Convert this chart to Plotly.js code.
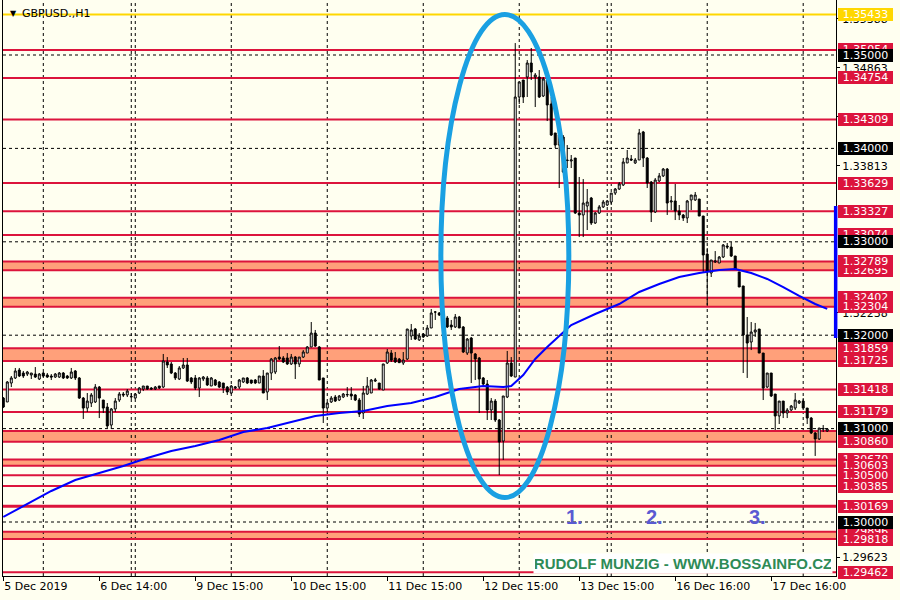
<!DOCTYPE html>
<html><head><meta charset="utf-8">
<script src="https://cdn.plot.ly/plotly-3.0.1.min.js"></script>
<style>html,body{margin:0;padding:0;background:#FFFFF0;}#chart{width:900px;height:600px;}</style>
</head><body><div id="chart"></div>
<script>
// ---- OHLC data (H1 bars, GBPUSD) ----
const openP = [1.31327,1.31285,1.31488,1.31542,1.31627,1.31595,1.31584,1.31574,1.31584,1.31531,
1.31595,1.31574,1.31563,1.31552,1.31552,1.31595,1.31563,1.31542,1.31617,1.31542,
1.31327,1.31220,1.31274,1.31285,1.31445,1.31306,1.31231,1.31038,1.31210,1.31306,
1.31370,1.31360,1.31338,1.31327,1.31381,1.31424,1.31456,1.31434,1.31424,1.31456,
1.31445,1.31713,1.31692,1.31595,1.31531,1.31649,1.31681,1.31542,1.31542,1.31434,
1.31531,1.31542,1.31456,1.31520,1.31499,1.31488,1.31445,1.31381,1.31434,1.31445,
1.31499,1.31542,1.31520,1.31520,1.31488,1.31563,1.31392,1.31595,1.31606,1.31766,
1.31756,1.31756,1.31692,1.31766,1.31692,1.31766,1.31809,1.31874,1.32023,1.31874,
1.31542,1.31220,1.31285,1.31338,1.31306,1.31338,1.31360,1.31370,1.31360,1.31306,
1.31167,1.31370,1.31381,1.31509,1.31488,1.31413,1.31702,1.31809,1.31756,1.31745,
1.31702,1.31745,1.31991,1.32066,1.31949,1.32013,1.31991,1.32077,1.32248,1.32238,
1.32238,1.32184,1.32109,1.32088,1.32195,1.32088,1.31809,1.31970,1.31799,1.31756,
1.31542,1.31477,1.31199,1.31295,1.31092,1.30867,1.31338,1.31702,1.31552,1.34550,
1.34732,1.34764,1.34914,1.34764,1.34764,1.34561,1.34732,1.34475,1.34165,1.34036,
1.34122,1.33876,1.33865,1.33897,1.33308,1.33287,1.33383,1.33469,1.33201,1.33308,
1.33373,1.33394,1.33426,1.33522,1.33565,1.33608,1.33844,1.33886,1.33844,1.33876,
1.34176,1.33897,1.33640,1.33319,1.33651,1.33705,1.33779,1.33426,1.33437,1.33330,
1.33287,1.33255,1.33448,1.33448,1.33458,1.33276,1.32869,1.32666,1.32784,1.32773,
1.32837,1.32955,1.32944,1.32848,1.32677,1.32527,1.32002,1.31927,1.32034,1.32066,
1.31809,1.31445,1.31595,1.31370,1.31135,1.31295,1.31167,1.31199,1.31220,1.31274,
1.31295,1.31220,1.31113,1.30953,1.30889,1.30996,1.30974];
const highP = [1.31338,1.31509,1.31563,1.31649,1.31649,1.31617,1.31617,1.31595,1.31659,1.31595,
1.31606,1.31595,1.31584,1.31595,1.31606,1.31606,1.31574,1.31649,1.31627,1.31552,
1.31338,1.31381,1.31381,1.31477,1.31456,1.31306,1.31274,1.31220,1.31327,1.31392,
1.31392,1.31424,1.31381,1.31381,1.31445,1.31456,1.31456,1.31445,1.31456,1.31456,
1.31799,1.31766,1.31713,1.31606,1.31670,1.31756,1.31756,1.31552,1.31574,1.31552,
1.31563,1.31563,1.31552,1.31531,1.31509,1.31488,1.31456,1.31467,1.31456,1.31531,
1.31542,1.31552,1.31520,1.31531,1.31563,1.31627,1.31595,1.31756,1.31766,1.31884,
1.31777,1.31809,1.31799,1.31777,1.31766,1.31841,1.31884,1.32141,1.32056,1.31884,
1.31542,1.31285,1.31349,1.31360,1.31360,1.31381,1.31445,1.31445,1.31370,1.31327,
1.31456,1.31552,1.31531,1.31542,1.31488,1.31692,1.31852,1.31841,1.31820,1.31756,
1.31820,1.32066,1.32120,1.32077,1.32023,1.32023,1.32109,1.32280,1.32259,1.32248,
1.32259,1.32206,1.32163,1.32227,1.32206,1.32098,1.31970,1.31981,1.31809,1.31766,
1.31552,1.31520,1.31327,1.31317,1.31103,1.31349,1.31831,1.31766,1.35128,1.34711,
1.34732,1.34946,1.35075,1.34807,1.34839,1.34764,1.34732,1.34550,1.34165,1.34165,
1.34143,1.34036,1.33929,1.33897,1.33694,1.33672,1.33565,1.33480,1.33319,1.33394,
1.33448,1.33448,1.33522,1.33576,1.33640,1.33897,1.33983,1.33929,1.33897,1.34208,
1.34187,1.33908,1.33651,1.33683,1.33737,1.33790,1.33790,1.33490,1.33619,1.33394,
1.33298,1.33448,1.33501,1.33533,1.33458,1.33276,1.32934,1.32805,1.32901,1.32848,
1.32976,1.32987,1.32998,1.32848,1.32677,1.32527,1.32195,1.32141,1.32131,1.32066,
1.31809,1.31595,1.31595,1.31370,1.31295,1.31295,1.31220,1.31253,1.31381,1.31306,
1.31327,1.31220,1.31124,1.30964,1.31006,1.31038,1.31006];
const lowP = [1.31220,1.31285,1.31445,1.31531,1.31552,1.31542,1.31563,1.31531,1.31542,1.31520,
1.31552,1.31542,1.31520,1.31542,1.31542,1.31531,1.31531,1.31531,1.31520,1.31317,
1.31103,1.31178,1.31231,1.31274,1.31113,1.31167,1.31006,1.30996,1.31178,1.31285,
1.31338,1.31338,1.31317,1.31317,1.31370,1.31402,1.31413,1.31413,1.31413,1.31424,
1.31434,1.31649,1.31584,1.31520,1.31520,1.31638,1.31499,1.31477,1.31413,1.31338,
1.31509,1.31456,1.31456,1.31456,1.31434,1.31381,1.31360,1.31370,1.31424,1.31424,
1.31488,1.31477,1.31477,1.31477,1.31488,1.31381,1.31306,1.31520,1.31584,1.31734,
1.31702,1.31681,1.31681,1.31531,1.31659,1.31756,1.31809,1.31874,1.31874,1.31520,
1.31060,1.31178,1.31274,1.31285,1.31295,1.31327,1.31338,1.31306,1.31295,1.31124,
1.31103,1.31360,1.31381,1.31499,1.31413,1.31413,1.31692,1.31713,1.31702,1.31702,
1.31681,1.31734,1.31949,1.31949,1.31938,1.31970,1.31981,1.32077,1.32163,1.32206,
1.32163,1.32077,1.32056,1.32077,1.32077,1.31809,1.31788,1.31488,1.31520,1.31167,
1.31456,1.31092,1.31092,1.31071,1.30503,1.30664,1.31327,1.31552,1.31552,1.34475,
1.34486,1.34550,1.34732,1.34443,1.34540,1.34550,1.34293,1.34133,1.34004,1.33576,
1.33737,1.33790,1.33790,1.33298,1.33051,1.33051,1.33126,1.33180,1.33191,1.33298,
1.33362,1.33383,1.33394,1.33501,1.33555,1.33597,1.33844,1.33865,1.33833,1.33876,
1.33801,1.33576,1.33212,1.33308,1.33640,1.33694,1.33287,1.33340,1.33233,1.33233,
1.33223,1.33201,1.33340,1.33437,1.33276,1.32677,1.32323,1.32623,1.32773,1.32773,
1.32826,1.32923,1.32837,1.32698,1.32516,1.31595,1.31542,1.31841,1.31981,1.31809,
1.31306,1.31434,1.31338,1.30985,1.31049,1.31113,1.31113,1.31188,1.31199,1.31263,
1.31199,1.31049,1.30942,1.30707,1.30878,1.30964,1.30964];
const closeP = [1.31231,1.31499,1.31542,1.31617,1.31563,1.31563,1.31606,1.31595,1.31552,1.31584,
1.31563,1.31552,1.31552,1.31584,1.31595,1.31542,1.31542,1.31606,1.31542,1.31327,
1.31220,1.31295,1.31360,1.31445,1.31327,1.31220,1.31028,1.31210,1.31295,1.31370,
1.31360,1.31402,1.31343,1.31370,1.31434,1.31456,1.31424,1.31424,1.31445,1.31434,
1.31724,1.31681,1.31595,1.31542,1.31649,1.31681,1.31509,1.31499,1.31434,1.31542,
1.31552,1.31467,1.31542,1.31467,1.31445,1.31434,1.31392,1.31456,1.31445,1.31520,
1.31542,1.31488,1.31488,1.31488,1.31563,1.31381,1.31595,1.31745,1.31756,1.31745,
1.31713,1.31692,1.31766,1.31692,1.31766,1.31820,1.31874,1.32023,1.31884,1.31520,
1.31220,1.31274,1.31327,1.31295,1.31349,1.31370,1.31365,1.31349,1.31306,1.31156,
1.31381,1.31456,1.31520,1.31520,1.31424,1.31692,1.31820,1.31734,1.31713,1.31706,
1.31734,1.32066,1.32056,1.31959,1.31991,1.31981,1.32077,1.32238,1.32248,1.32216,
1.32184,1.32088,1.32088,1.32195,1.32077,1.31820,1.31959,1.31809,1.31745,1.31531,
1.31477,1.31199,1.31295,1.31092,1.30857,1.31349,1.31702,1.31563,1.34550,1.34711,
1.34550,1.34914,1.34818,1.34786,1.34550,1.34743,1.34465,1.34143,1.34036,1.34143,
1.33747,1.33870,1.33876,1.33308,1.33287,1.33415,1.33426,1.33201,1.33308,1.33373,
1.33426,1.33437,1.33522,1.33565,1.33619,1.33854,1.33897,1.33876,1.33876,1.34165,
1.33897,1.33630,1.33319,1.33662,1.33705,1.33779,1.33415,1.33437,1.33330,1.33287,
1.33255,1.33437,1.33501,1.33501,1.33276,1.32859,1.32677,1.32805,1.32794,1.32837,
1.32966,1.32944,1.32848,1.32709,1.32516,1.32002,1.31916,1.32034,1.32056,1.31809,
1.31434,1.31595,1.31349,1.31135,1.31295,1.31167,1.31199,1.31242,1.31306,1.31295,
1.31220,1.31113,1.30953,1.30889,1.31006,1.31000,1.30996];

// moving average readings (bar number -> value)
const maBar = [1,7,13,19,25,31,37,43,49,55,61,67,73,79,85,91,97,103,109,115,121,126,128,131,134,137,140,143,149,155,160,165,170,175,180,184,188,192,196,200,204,207];
const maVal = [1.30054,1.30193,1.30332,1.30450,1.30525,1.30600,1.30685,1.30760,1.30814,1.30878,1.30964,1.31006,1.31071,1.31135,1.31167,1.31188,1.31242,1.31274,1.31338,1.31424,1.31456,1.31445,1.31456,1.31574,1.31745,1.31874,1.31991,1.32109,1.32227,1.32334,1.32463,1.32548,1.32623,1.32666,1.32698,1.32709,1.32666,1.32602,1.32516,1.32420,1.32334,1.32281];

// horizontal levels
const hiddenRedLevels = [1.35054,1.33074,1.32695,1.32402,1.30974,1.30670,1.29896];
const redLevels = [1.34754,1.34309,1.33629,1.33327,1.32789,1.32304,1.31859,1.31725,1.31418,1.31179,1.30860,1.30603,1.30500,1.30385,1.30169,1.29818,1.29462];
const bandLow  = [1.32695,1.32304,1.31725,1.30860,1.30603,1.29818];
const bandHigh = [1.32789,1.32402,1.31859,1.30974,1.30670,1.29896];
const roundLevels = [1.35000,1.34000,1.33000,1.32000,1.31000,1.30000];
const yellowLevel = 1.35433;

// axes
const xTickBars = [1,25,49,73,97,121,145,169,193];
const xTickText = ['5 Dec 2019','6 Dec 14:00','9 Dec 15:00','10 Dec 15:00','11 Dec 15:00','12 Dec 15:00','13 Dec 15:00','16 Dec 16:00','17 Dec 16:00'];
const yTickVals = [1.35388,1.34863,1.34338,1.33813,1.32238,1.29623];
const gridBars = [11,33,34,58,82,106,130,152,153,177,201];

// drawn objects
const markText = ['1.','2.','3.'];
const markBar = [143.9,163.9,189.6];
const markPrice = 1.30054;
const ellipseBars = [110.4,142.4];
const ellipsePrices = [1.30262,1.35434];
const blueBarPrices = [1.31970,1.33383];

const F = 'DejaVu Sans, sans-serif';
const RED = '#DC143C', SALMON = '#FFA07A', BG = '#FFFFF0';
const bars = openP.map((_, i) => i + 1);

const traces = [
  {type:'scatter', mode:'lines', x:maBar, y:maVal, line:{color:'#0000FF', width:2}, hoverinfo:'skip'},
  {type:'candlestick', x:bars, open:openP, high:highP, low:lowP, close:closeP,
   increasing:{line:{color:'#000000', width:1}, fillcolor:'#FFFFFF'},
   decreasing:{line:{color:'#000000', width:1}, fillcolor:'#000000'},
   whiskerwidth:0, hoverinfo:'skip'}
];

const shapes = [];
bandLow.forEach((lo, k) => shapes.push({type:'rect', xref:'paper', x0:0, x1:1, yref:'y', y0:lo, y1:bandHigh[k], fillcolor:SALMON, line:{width:0}, layer:'below'}));
gridBars.forEach(b => shapes.push({type:'line', xref:'x', x0:b, x1:b, yref:'paper', y0:0, y1:1, line:{color:'#000', width:1, dash:'dot'}, layer:'below'}));
roundLevels.forEach(v => shapes.push({type:'line', xref:'paper', x0:0, x1:1, yref:'y', y0:v, y1:v, line:{color:'#000', width:1, dash:'dot'}, layer:'below'}));
hiddenRedLevels.concat(redLevels).forEach(v => shapes.push({type:'line', xref:'paper', x0:0, x1:1, yref:'y', y0:v, y1:v, line:{color:RED, width:(v===1.30169?3:2)}, layer:'below'}));
shapes.push({type:'line', xref:'paper', x0:0, x1:1, yref:'y', y0:yellowLevel, y1:yellowLevel, line:{color:'#FFD700', width:2}, layer:'below'});
shapes.push({type:'circle', xref:'x', yref:'y', x0:ellipseBars[0], x1:ellipseBars[1], y0:ellipsePrices[0], y1:ellipsePrices[1], line:{color:'#1AA0E2', width:5}, layer:'above'});
shapes.push({type:'line', xref:'paper', x0:0.9996, x1:0.9996, yref:'y', y0:blueBarPrices[0], y1:blueBarPrices[1], line:{color:'#0000FF', width:3.5}, layer:'above'});

function priceLabel(v, bg) {
  return {xref:'paper', x:1, xanchor:'left', xshift:2, yref:'y', y:v, yanchor:'middle',
    text:v.toFixed(5), showarrow:false, bgcolor:bg, borderpad:0, borderwidth:0,
    width:55, height:13, align:'center', font:{family:F, size:11, color:'#FFFFFF'}};
}
const annotations = [];
hiddenRedLevels.forEach(v => annotations.push(priceLabel(v, RED)));
redLevels.forEach(v => annotations.push(priceLabel(v, RED)));
roundLevels.forEach(v => annotations.push(priceLabel(v, '#000000')));
annotations.push(priceLabel(yellowLevel, '#FFD700'));

annotations.push({xref:'paper', yref:'paper', x:0, y:1, xanchor:'left', yanchor:'top', xshift:5, yshift:-7, text:'▼', showarrow:false, font:{family:F, size:8, color:'#000'}});
annotations.push({xref:'paper', yref:'paper', x:0, y:1, xanchor:'left', yanchor:'top', xshift:17, yshift:-5, text:'GBPUSD.,H1', showarrow:false, font:{family:F, size:11, color:'#000'}});
annotations.push({xref:'paper', yref:'paper', x:1, y:0, xanchor:'right', yanchor:'bottom', xshift:-3, yshift:2, text:'<b>RUDOLF MUNZIG - WWW.BOSSAINFO.CZ</b>', showarrow:false, bgcolor:'#FFFFFF', width:296, height:17, borderpad:1, font:{family:'Liberation Sans, Arial, sans-serif', size:15, color:'#2E8B57'}});
markText.forEach((t, k) => annotations.push({xref:'x', yref:'y', x:markBar[k], y:markPrice, text:'<b>'+t+'</b>', showarrow:false, font:{family:'Liberation Sans, Arial, sans-serif', size:20, color:'#5A5AD2'}}));

const layout = {
  width:900, height:600, paper_bgcolor:BG, plot_bgcolor:BG,
  margin:{l:3, r:64, t:0, b:24}, showlegend:false, hovermode:false, dragmode:false,
  xaxis:{type:'linear', range:[0.925, 209.2], tickvals:xTickBars, ticktext:xTickText, ticks:'outside', ticklen:4, tickcolor:'#000',
    ticklabelposition:'outside right', showgrid:false, zeroline:false, showline:true, linecolor:'#000', linewidth:1,
    tickfont:{family:F, size:11, color:'#000'}, rangeslider:{visible:false}, fixedrange:true},
  yaxis:{side:'right', range:[1.294218, 1.355889], tickvals:yTickVals, ticktext:yTickVals.map(v=>v.toFixed(5)), ticks:'outside', ticklen:3, tickcolor:'#000',
    showgrid:false, zeroline:false, showline:true, mirror:true, linecolor:'#000', linewidth:1,
    tickfont:{family:F, size:11, color:'#000'}, fixedrange:true},
  shapes:shapes, annotations:annotations
};
Plotly.newPlot('chart', traces, layout, {staticPlot:true, displayModeBar:false});
</script></body></html>
